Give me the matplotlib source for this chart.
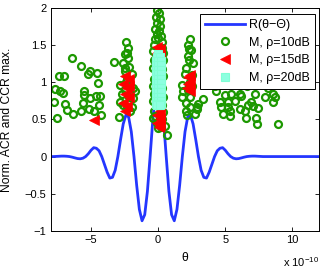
import numpy as np
import matplotlib
matplotlib.use("Agg")
import matplotlib.pyplot as plt

plt.rcParams['font.family'] = ['Liberation Sans', 'DejaVu Sans']
plt.rcParams['mathtext.fontset'] = 'custom'
plt.rcParams['mathtext.rm'] = 'Liberation Sans'
plt.rcParams['mathtext.it'] = 'Liberation Sans:italic'

# theta in units of 1e-10
theta_half = [0.0, 0.2, 0.4, 0.6, 0.8, 1.0, 1.2, 1.4, 1.6, 1.8,
              2.0, 2.2, 2.4, 2.6, 2.8, 3.0, 3.2, 3.4, 3.6, 3.8,
              4.0, 4.2, 4.4, 4.6, 4.8, 5.0, 5.2, 5.4, 5.6, 5.8,
              6.0, 6.2, 6.4, 6.6, 6.8, 7.0, 7.2, 7.4, 7.6, 7.8]
r_half = [1.000, 0.863, 0.492, 0.0, -0.469, -0.784, -0.866, -0.712, -0.387, 0.0,
          0.335, 0.534, 0.562, 0.441, 0.228, 0.0, -0.185, -0.28, -0.29, -0.21,
          -0.105, 0.0, 0.078, 0.112, 0.12, 0.085, 0.038, 0.0, -0.022, -0.030,
          -0.027, -0.018, -0.008, 0.0, 0.004, 0.006, 0.006, 0.004, 0.002, 0.0]

# M, rho=10dB
g_theta = [
    # left scatter
    -6.44, -5.75, -5.06, -4.58, -5.20, -7.36, -7.03, -4.46, -7.68, -7.11,
    -7.29, -5.50, -5.55, -4.63, -4.31, -5.06, -7.78, -6.94, -5.62, -4.39,
    -6.79, -6.36, -5.75, -5.13, -4.76, -4.26, -7.53, -3.27,
    # cluster -2.4
    -2.42, -2.28, -2.48, -2.23, -2.60, -2.18, -2.48, -1.98, -2.85, -1.86,
    -1.73, -2.72, -1.86, -2.85, -1.98, -2.92, -2.10, -2.40, -2.30, -2.50,
    -2.20, -2.60, -2.35, -2.50, -2.30,
    # cluster 0
    -0.10, 0.05, -0.15, 0.10, -0.05, 0.15, -0.20, 0.05, -0.10, 0.20,
    -0.25, 0.00, 0.25, -0.30, 0.30, -0.35, 0.35, -0.30, 0.35, -0.35,
    0.30, -0.30, 0.35, -0.35, 0.30, -0.30, 0.35, -0.35, 0.30, -0.30,
    0.35, -0.25, 0.30, -0.37, 0.00, 0.50, 0.67, -0.10, 0.20,
    # cluster +2.4
    2.36, 2.23, 2.48, 2.23, 2.60, 2.11, 1.99, 1.74, 1.86, 1.74,
    2.11, 2.36, 2.86, 2.11, 2.73, 2.16, 2.40, 2.30, 2.50, 2.20,
    2.40, 2.55, 2.30,
    # right scatter
    3.35, 2.97, 2.86, 4.34, 4.96, 5.46, 6.07, 6.20, 4.59, 5.20,
    5.70, 7.19, 7.93, 8.55, 8.68, 8.55, 4.66, 5.20, 5.33, 6.69,
    6.94, 7.06, 7.43, 6.07, 6.50, 4.83, 5.33, 6.57, 7.32, 7.39,
    8.92, 4.20, 5.00, 5.90, 6.60, 7.60, 8.20, 4.60,
]
g_val = [
    1.33, 1.22, 1.15, 1.13, 1.11, 1.08, 1.09, 0.99, 0.91, 0.86,
    0.88, 0.88, 0.83, 0.82, 0.82, 0.79, 0.74, 0.71, 0.72, 0.70,
    0.63, 0.58, 0.62, 0.64, 0.61, 0.56, 0.52, 1.28,
    1.55, 1.46, 1.39, 1.33, 1.26, 1.21, 1.15, 1.12, 0.97, 0.92,
    0.88, 0.85, 0.79, 0.74, 0.67, 0.53, 0.61, 1.00, 1.05, 0.90,
    0.80, 0.70, 0.65, 1.20, 1.40,
    1.98, 1.93, 1.88, 1.85, 1.80, 1.76, 1.72, 1.70, 1.65, 1.62,
    1.58, 1.60, 1.55, 1.50, 1.47, 1.42, 1.40, 1.30, 1.30, 1.20,
    1.18, 1.05, 1.08, 0.95, 0.92, 0.85, 0.80, 0.75, 0.70, 0.62,
    0.60, 0.55, 0.50, 0.52, 0.38, 0.41, 0.29, 0.45, 0.40,
    1.58, 1.51, 1.44, 1.35, 1.26, 1.19, 1.12, 0.97, 0.88, 0.81,
    0.72, 0.67, 0.67, 0.61, 0.58, 0.56, 1.00, 1.30, 1.10, 0.90,
    0.80, 0.95, 1.45,
    0.77, 0.71, 0.64, 0.88, 0.83, 0.84, 0.85, 0.82, 0.74, 0.74,
    0.75, 0.84, 0.81, 0.84, 0.81, 0.74, 0.67, 0.67, 0.62, 0.70,
    0.73, 0.68, 0.65, 0.64, 0.61, 0.58, 0.55, 0.52, 0.52, 0.44,
    0.44, 0.95, 1.02, 1.10, 0.95, 1.05, 0.92, 1.18,
]

# M, rho=15dB
r_theta = [
    -4.80,
    -2.50, -2.20, -2.60, -2.30, -2.50, -2.20, -2.60, -2.30, -2.45, -2.15,
    -0.10, 0.12, -0.10, 0.12, -0.10, 0.12, -0.10, 0.12, -0.10, 0.12,
    -0.10, 0.12, -0.10, 0.12, -0.10, 0.12, -0.10, 0.12, -0.10, 0.12,
    -0.05, 0.05,
    2.25, 2.40, 2.15, 2.35, 2.20, 2.36,
]
r_val = [
    0.49,
    1.08, 1.05, 0.98, 0.92, 0.85, 0.80, 0.72, 0.68, 0.62, 0.95,
    1.48, 1.45, 1.40, 1.34, 1.28, 1.22, 1.16, 1.10, 1.04, 0.98,
    0.92, 0.86, 0.80, 0.74, 0.68, 0.62, 0.56, 0.50, 0.45, 0.42,
    1.38, 0.40,
    1.07, 1.00, 0.93, 0.88, 0.98, 1.10,
]

# M, rho=20dB
c_theta = [
    0.02,
    -0.10, 0.14, -0.16, 0.02, 0.20, -0.16, 0.02, 0.20, -0.16,
    0.02, 0.20, -0.16, 0.02, 0.20, -0.16, 0.02, 0.20, -0.16, 0.02,
    0.20, -0.16, 0.02, 0.20, -0.16, 0.02, 0.20, -0.16, 0.02, 0.20,
    -0.16, 0.02, 0.20, -0.16, 0.02, 0.20, -0.10, 0.14,
]
c_val = [
    1.38,
    1.34, 1.34, 1.29, 1.29, 1.29, 1.23, 1.23, 1.23, 1.17,
    1.17, 1.17, 1.11, 1.11, 1.11, 1.05, 1.05, 1.05, 0.99, 0.99,
    0.99, 0.93, 0.93, 0.93, 0.87, 0.87, 0.87, 0.81, 0.81, 0.81,
    0.75, 0.75, 0.75, 0.71, 0.71, 0.71, 0.70, 0.70,
]

theta = np.concatenate([[-8.0], -np.array(theta_half[:0:-1]), theta_half, [12.0]])
r = np.concatenate([[0.0], np.array(r_half[:0:-1]), r_half, [0.0]])

fig = plt.figure(figsize=(3.22, 2.71), dpi=100)
ax = fig.add_axes([0.1575, 0.1487, 0.8342, 0.8207])

ax.plot(theta, r, color='#2436ff', lw=2.0, label='R(θ−Θ)')
ax.plot(g_theta, g_val, 'o', ls='none', ms=5.0, mew=1.6, mfc='none',
        mec='#1c9800', label='M, ρ=10dB')
ax.plot(r_theta, r_val, '<', ls='none', ms=7.5, mew=0.5, color='#ff0000',
        label='M, ρ=15dB')
ax.plot(c_theta, c_val, 's', ls='none', ms=5.5, mew=0.8, mfc='#8cffe0',
        mec='#7fffd4', label='M, ρ=20dB')

ax.set_xlim(-8, 12)
ax.set_ylim(-1, 2)
ax.set_xticks([-5, 0, 5, 10])
ax.set_yticks([-1, -0.5, 0, 0.5, 1, 1.5, 2])
ax.set_yticklabels(['−1', '−0.5', '0', '0.5', '1', '1.5', '2'])
ax.tick_params(direction='in', top=True, right=True, length=3, width=0.6,
               labelsize=8, pad=3)
for s in ax.spines.values():
    s.set_linewidth(0.7)

ax.set_xlabel('θ', fontsize=8.7, labelpad=5)
ax.set_ylabel('Norm. ACR and CCR max.', fontsize=8.7)
ax.yaxis.set_label_coords(-0.14, 0.5)
ax.text(1.0, -0.14, r'x 10$^{-10}$', transform=ax.transAxes, ha='right',
        va='center', fontsize=8)

leg = ax.legend(loc='upper right', bbox_to_anchor=(0.984, 0.974),
                borderaxespad=0, fontsize=9, fancybox=False, framealpha=1,
                edgecolor='black', handlelength=3.2, labelspacing=0.45,
                borderpad=0.4, handletextpad=0.35)
leg.get_frame().set_linewidth(0.7)

fig.savefig('out.png', dpi=100)
